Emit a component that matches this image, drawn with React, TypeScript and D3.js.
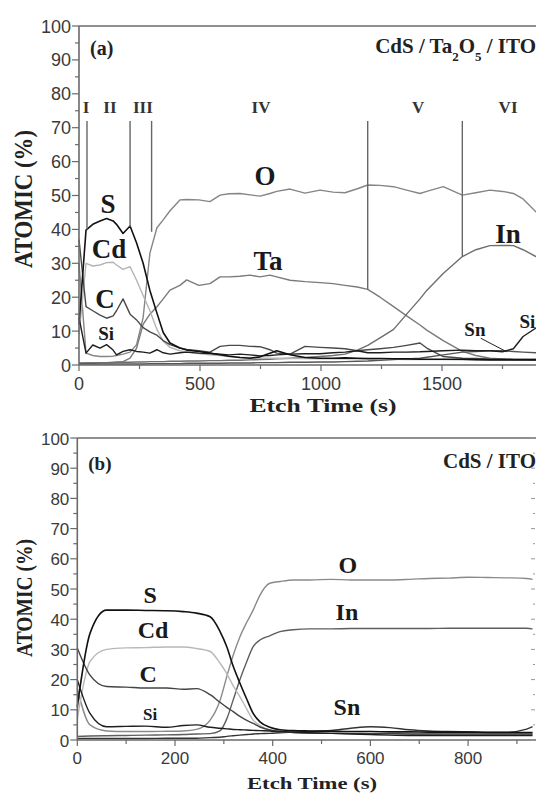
import React, { useRef, useEffect } from "react";
import * as d3 from "d3";

// ---- panel (a): CdS / Ta2O5 / ITO ----
const timeA = [
  0, 29, 57, 87, 114, 141, 155, 182, 211, 238,
  265, 293, 322, 348, 376, 417, 445, 495, 541, 583,
  620, 665, 707, 748, 789, 817, 872, 934, 996, 1050,
  1099, 1150, 1193, 1244, 1300, 1354, 1409, 1437, 1505, 1584,
  1640, 1698, 1750, 1795, 1835, 1888, 1950,
];
const sA = [
  12, 39.8, 41.5, 42.5, 43.2, 42.5, 41.5, 38.8, 41, 36,
  30, 22, 15.3, 9.6, 6.5, 5, 4.4, 4, 3.5, 3,
  2.6, 2.2, 2, 2.4, 3.5, 4.2, 3, 2.2, 2, 2,
  2.1, 2, 1.9, 1.9, 1.8, 1.8, 1.7, 1.7, 1.7, 1.7,
  1.6, 1.5, 1.5, 1.5, 1.5, 1.5, 1.5,
];
const cdA = [
  9, 30, 29.2, 29.5, 30.2, 30.3, 29.5, 28.2, 29, 25,
  20.5, 16, 10.5, 7, 5.2, 4.2, 3.8, 3.4, 3, 2.8,
  2.5, 2.3, 2.2, 2, 2, 2, 1.9, 1.9, 1.8, 1.8,
  1.8, 1.8, 1.7, 1.7, 1.7, 1.6, 1.6, 1.6, 1.6, 1.5,
  1.5, 1.5, 1.5, 1.5, 1.5, 1.5, 1.5,
];
const cA = [
  37, 17.2, 16, 14.7, 13.8, 14.5, 16, 19.5, 15, 13.3,
  11, 9.8, 8.8, 7.2, 6, 5, 4.6, 4.2, 3.8, 5.5,
  5.8, 5.8, 5.5, 5.4, 4.5, 3.5, 3.2, 5.5, 5.2, 5,
  4.8, 4.2, 4.5, 4.8, 5.2, 5.8, 6.5, 5, 2.5, 2,
  1.9, 1.8, 1.8, 1.7, 1.7, 1.7, 1.7,
];
const siA = [
  14, 3.5, 5.9, 5, 6, 4.4, 3, 4, 4.5, 4,
  3.8, 3.5, 4.5, 3.6, 3.2, 3.6, 3.8, 3.5, 3.4, 3.2,
  3, 3.2, 3, 2.7, 2.8, 3, 3.2, 3.3, 3.3, 3.6,
  3.8, 4.2, 3.6, 3.6, 3.8, 3.8, 3.9, 4, 4.2, 4.4,
  4.2, 4.2, 3.9, 4.8, 8.4, 10.9, 12,
];
const oA = [
  30, 3.5, 2.8, 2.5, 2.5, 2.6, 2.8, 3.2, 3.8, 6,
  14, 33, 40.5, 42.8, 45.5, 48.7, 48.8, 48.7, 48.2, 50.1,
  50.5, 50.6, 50.2, 49.8, 50.6, 51.2, 51.9, 50.7, 51.6, 51,
  50.8, 52, 53.1, 53, 52.6, 51.6, 50.6, 51.2, 52.6, 50.1,
  50.8, 51.6, 51.2, 50.6, 49, 45.2, 42,
];
const taA = [
  0.5, 0.6, 0.6, 0.7, 0.7, 0.8, 0.8, 1, 2, 5,
  12, 15, 17.2, 19.5, 22.1, 23.5, 25.1, 23.5, 24, 26,
  26, 26.2, 26.5, 26, 26.5, 26, 25, 24.6, 24.3, 24,
  23.5, 23, 22.3, 20, 17.2, 14.5, 11.8, 10.3, 7.2, 4,
  2.8, 2, 1.8, 1.6, 1.5, 1.4, 1.4,
];
const inA = [
  0.5, 0.6, 0.6, 0.7, 0.7, 0.7, 0.8, 0.8, 0.8, 0.9,
  0.9, 1, 1, 1, 1.1, 1.1, 1.2, 1.2, 1.3, 1.3,
  1.4, 1.4, 1.5, 1.6, 1.7, 1.8, 2, 2.2, 2.5, 2.8,
  3.2, 4.4, 5.8, 8, 10.5, 15, 19.5, 22, 27, 32,
  34, 35.2, 35.3, 35.2, 34, 32, 28,
];
const snA = [
  0.3, 0.3, 0.3, 0.3, 0.3, 0.3, 0.3, 0.3, 0.3, 0.3,
  0.3, 0.4, 0.4, 0.4, 0.4, 0.4, 0.5, 0.5, 0.5, 0.5,
  0.6, 0.6, 0.6, 0.7, 0.7, 0.7, 0.8, 0.8, 0.9, 0.9,
  1, 1.1, 1.2, 1.4, 1.6, 1.8, 2, 2.3, 3, 3.8,
  4, 4.2, 4.2, 4, 3.8, 3.6, 3.5,
];
// region dividers (time, value where the line stops) and region names
const dividerTimes = [33, 211, 300, 1193, 1584];
const dividerEnds = [40, 40.8, 39.3, 22.3, 32];
const regionNames = ["I", "II", "III", "IV", "V", "VI"];
const regionTimes = [29, 128, 264, 752, 1401, 1773];

// ---- panel (b): CdS / ITO ----
const timeB = [
  0, 26, 60, 100, 140, 183, 217, 244, 272, 292,
  306, 319, 333, 347, 360, 374, 394, 415, 442, 476,
  520, 560, 600, 640, 680, 720, 760, 800, 840, 880,
  920, 932,
];
const sB = [
  11, 35.3, 43, 43, 42.9, 42.8, 42.5, 42, 40.8, 36,
  30.9, 24.5, 18.8, 13.5, 8.8, 6, 4.2, 3.4, 3.1, 3,
  2.9, 2.8, 2.8, 2.7, 2.7, 2.6, 2.6, 2.6, 2.5, 2.5,
  2.5, 2.5,
];
const cdB = [
  7, 26, 30, 30.5, 30.6, 30.8, 30.8, 30.3, 29.3, 25.5,
  22, 18, 14.3, 10.2, 6.6, 4.8, 3.3, 2.8, 2.5, 2.3,
  2.2, 2.1, 2, 2, 2, 2, 2, 2, 2, 2,
  2, 2,
];
const cB = [
  30.5, 21.5, 17.7, 17.5, 17.2, 17.2, 16.8, 17, 15, 12.5,
  10.8, 9.4, 7.8, 6.5, 5.5, 4.3, 3.3, 2.8, 2.5, 2.3,
  2.2, 2.2, 2.1, 2.1, 2, 2, 2, 2, 2, 2,
  2, 2,
];
const siB = [
  20, 8.8, 4.4, 4.5, 4.6, 4.2, 4.8, 5, 4.2, 3.9,
  3.7, 3.5, 3.4, 3.3, 3.2, 3.1, 3, 2.8, 2.6, 2.4,
  2.2, 2, 1.8, 1.6, 1.5, 1.5, 1.5, 1.5, 1.5, 1.5,
  1.5, 1.5,
];
const oB = [
  17, 5, 3, 2.8, 2.8, 2.9, 3, 3.5, 6.6, 13,
  21, 28, 34.2, 39, 43, 48, 51.9, 52.5, 53, 53,
  53.2, 53, 53, 53, 53.2, 53.5, 53.6, 53.9, 53.8, 53.7,
  53.5, 53.2,
];
const inB = [
  1.2, 1.3, 1.4, 1.5, 1.6, 1.7, 1.8, 2, 2.1, 3,
  7, 13.2, 20, 26, 30.9, 33.1, 34.5, 35.9, 36.5, 36.8,
  36.8, 36.9, 36.9, 36.9, 36.9, 36.9, 37, 37, 37, 37,
  37, 36.8,
];
const snB = [
  0.5, 0.5, 0.5, 0.5, 0.5, 0.6, 0.6, 0.6, 0.8, 0.9,
  1.2, 1.4, 1.6, 1.8, 2, 2.1, 2.2, 2.4, 2.6, 2.8,
  3.2, 3.9, 4.4, 4.1, 3.4, 3, 2.8, 2.7, 2.6, 2.6,
  3.6, 4.4,
];

const serif = "'Liberation Serif', 'Times New Roman', serif";
const sans = "'Liberation Sans', Arial, sans-serif";
const W = 536;
const H = 794;

const drawPanel = (svg, p) => {
  const { x, y } = p;
  const g = svg.append("g");
  const x0 = x(0);
  const y0 = y(0);
  const yTop = y(100);
  const axisColor = "#6a6a6a";

  // curves
  const line = d3
    .line()
    .x((d) => x(d[0]))
    .y((d) => y(d[1]))
    .curve(p.curve);
  p.series.forEach((s) => {
    g.append("path")
      .datum(p.times.map((t, i) => [t, s.values[i]]))
      .attr("d", line)
      .attr("fill", "none")
      .attr("stroke", s.color)
      .attr("stroke-width", s.width || 1.4)
      .attr("stroke-linejoin", "round");
  });

  // frame: left, bottom, top (right side is cut off)
  g.append("line").attr("x1", x0).attr("x2", x0).attr("y1", yTop).attr("y2", y0)
    .attr("stroke", axisColor).attr("stroke-width", 1.6);
  g.append("line").attr("x1", x0).attr("x2", W).attr("y1", y0).attr("y2", y0)
    .attr("stroke", axisColor).attr("stroke-width", 1.6);
  g.append("line").attr("x1", x0).attr("x2", W).attr("y1", yTop).attr("y2", yTop)
    .attr("stroke", axisColor).attr("stroke-width", 1.6);

  // y ticks
  d3.range(0, 101, 5).forEach((v) => {
    const major = v % 10 === 0;
    g.append("line")
      .attr("x1", x0 - (major ? 7 : 4)).attr("x2", x0)
      .attr("y1", y(v)).attr("y2", y(v))
      .attr("stroke", axisColor).attr("stroke-width", 1.2);
    if (p.rightTicks) {
      g.append("line")
        .attr("x1", p.rightTicks - (major ? 4 : 2)).attr("x2", p.rightTicks)
        .attr("y1", y(v)).attr("y2", y(v))
        .attr("stroke", "#999").attr("stroke-width", 1);
    }
    if (major) {
      g.append("text")
        .attr("x", x0 - 8).attr("y", y(v) + 6.5)
        .attr("text-anchor", "end")
        .attr("font-family", sans).attr("font-size", p.tickFont)
        .attr("fill", "#3a3a3a")
        .text(v);
    }
  });

  // x ticks
  p.xMinor.forEach((v) => {
    g.append("line").attr("x1", x(v)).attr("x2", x(v))
      .attr("y1", y0).attr("y2", y0 + 4)
      .attr("stroke", axisColor).attr("stroke-width", 1.2);
  });
  p.xMajor.forEach((v) => {
    g.append("line").attr("x1", x(v)).attr("x2", x(v))
      .attr("y1", y0).attr("y2", y0 + 6)
      .attr("stroke", axisColor).attr("stroke-width", 1.2);
    g.append("text")
      .attr("x", x(v)).attr("y", y0 + p.xLabelDy)
      .attr("text-anchor", "middle")
      .attr("font-family", sans).attr("font-size", p.tickFont)
      .attr("fill", "#3a3a3a")
      .text(v);
  });

  // axis titles
  g.append("text")
    .attr("x", p.xTitle[0]).attr("y", p.xTitle[1])
    .attr("text-anchor", "middle")
    .attr("font-family", serif).attr("font-weight", "bold")
    .attr("font-size", p.xTitle[2])
    .attr("textLength", p.xTitle[3]).attr("lengthAdjust", "spacingAndGlyphs")
    .attr("fill", "#222")
    .text("Etch Time (s)");
  g.append("text")
    .attr("transform", `translate(${p.yTitle[0]},${p.yTitle[1]}) rotate(-90)`)
    .attr("text-anchor", "middle")
    .attr("font-family", serif).attr("font-weight", "bold")
    .attr("font-size", p.yTitle[2])
    .attr("textLength", p.yTitle[3]).attr("lengthAdjust", "spacingAndGlyphs")
    .attr("fill", "#222")
    .text("ATOMIC (%)");

  // panel tag and sample name
  g.append("text")
    .attr("x", x0 + 11).attr("y", p.tagY)
    .attr("font-family", serif).attr("font-weight", "bold")
    .attr("font-size", p.tagFont).attr("fill", "#222")
    .text(p.tag);
  const name = g.append("text")
    .attr("x", 536).attr("y", p.tagY - 2)
    .attr("text-anchor", "end")
    .attr("font-family", serif).attr("font-weight", "bold")
    .attr("font-size", p.nameFont).attr("fill", "#222");
  p.sample.forEach((part) => {
    name.append("tspan")
      .attr("baseline-shift", part.sub ? "sub" : null)
      .attr("font-size", part.sub ? p.nameFont - 8 : null)
      .text(part.t);
  });

  // element labels
  p.labels.forEach((l) => {
    g.append("text")
      .attr("x", x(l.t)).attr("y", y(l.v))
      .attr("text-anchor", l.anchor || "middle")
      .attr("font-family", serif).attr("font-weight", "bold")
      .attr("font-size", l.size).attr("fill", "#1a1a1a")
      .text(l.name);
  });
  return g;
};

const App = () => {
  const svgRef = useRef(null);

  useEffect(() => {
    const svg = d3.select(svgRef.current);
    svg.selectAll("*").remove();

    const xA = d3.scaleLinear().domain([0, 2000]).range([79, 563]);
    const yA = d3.scaleLinear().domain([0, 100]).range([365, 26]);
    const gA = drawPanel(svg, {
      x: xA, y: yA, times: timeA, curve: d3.curveLinear,
      series: [
        { values: taA, color: "#7a7a7a" },
        { values: inA, color: "#6e6e6e" },
        { values: oA, color: "#858585" },
        { values: snA, color: "#555" },
        { values: cdA, color: "#b4b4b4" },
        { values: cA, color: "#4a4a4a" },
        { values: siA, color: "#1e1e1e" },
        { values: sA, color: "#111", width: 1.6 },
      ],
      xMajor: [0, 500, 1000, 1500],
      xMinor: [250, 750, 1250, 1750],
      xLabelDy: 25, tickFont: 18,
      xTitle: [323, 412, 18, 147],
      yTitle: [32, 199, 25, 138],
      tag: "(a)", tagY: 55, tagFont: 20, nameFont: 21,
      sample: [
        { t: "CdS / Ta" }, { t: "2", sub: true }, { t: "O" }, { t: "5", sub: true }, { t: " / ITO" },
      ],
      labels: [
        { name: "S", t: 120, v: 44.8, size: 27 },
        { name: "Cd", t: 124, v: 31.6, size: 27 },
        { name: "C", t: 107, v: 16.8, size: 27 },
        { name: "Si", t: 112, v: 7.4, size: 19 },
        { name: "O", t: 769, v: 53.1, size: 27 },
        { name: "Ta", t: 781, v: 28, size: 27 },
        { name: "In", t: 1773, v: 36, size: 27 },
        { name: "Sn", t: 1636, v: 8.6, size: 19 },
        { name: "Si", t: 1886, v: 10.9, size: 19, anchor: "end" },
      ],
    });

    // region dividers and names
    dividerTimes.forEach((t, i) => {
      gA.append("line")
        .attr("x1", xA(t)).attr("x2", xA(t))
        .attr("y1", yA(72)).attr("y2", yA(dividerEnds[i]))
        .attr("stroke", "#666").attr("stroke-width", 1.4);
    });
    regionNames.forEach((n, i) => {
      gA.append("text")
        .attr("x", xA(regionTimes[i])).attr("y", yA(74.3))
        .attr("text-anchor", "middle")
        .attr("font-family", serif).attr("font-weight", "bold")
        .attr("font-size", 17).attr("fill", "#333")
        .text(n);
    });
    // pointer from the Sn label to its curve
    gA.append("line")
      .attr("x1", xA(1660)).attr("y1", yA(7.9))
      .attr("x2", xA(1767)).attr("y2", yA(3.9))
      .attr("stroke", "#222").attr("stroke-width", 1);

    const xB = d3.scaleLinear().domain([0, 937]).range([77.3, 535]);
    const yB = d3.scaleLinear().domain([0, 100]).range([740, 438]);
    drawPanel(svg, {
      x: xB, y: yB, times: timeB, curve: d3.curveMonotoneX,
      series: [
        { values: oB, color: "#8a8a8a" },
        { values: inB, color: "#5e5e5e" },
        { values: snB, color: "#333" },
        { values: cdB, color: "#b8b8b8" },
        { values: cB, color: "#444" },
        { values: siB, color: "#1e1e1e" },
        { values: sB, color: "#111", width: 1.6 },
      ],
      xMajor: [0, 200, 400, 600, 800],
      xMinor: [100, 300, 500, 700, 900],
      xLabelDy: 24, tickFont: 17, rightTicks: 535,
      xTitle: [312, 789, 16, 130],
      yTitle: [32, 598, 23, 118],
      tag: "(b)", tagY: 470, tagFont: 19, nameFont: 21,
      sample: [{ t: "CdS / ITO" }],
      labels: [
        { name: "S", t: 149, v: 45.4, size: 24 },
        { name: "Cd", t: 155, v: 33.8, size: 24 },
        { name: "C", t: 145, v: 19.2, size: 24 },
        { name: "Si", t: 149, v: 6.6, size: 17 },
        { name: "O", t: 554, v: 55.3, size: 24 },
        { name: "In", t: 552, v: 39.7, size: 24 },
        { name: "Sn", t: 552, v: 8.3, size: 24 },
      ],
    });
  }, []);

  return (
    <svg
      ref={svgRef}
      width={W}
      height={H}
      style={{ position: "absolute", left: 0, top: 0, background: "#fff" }}
    />
  );
};

export default App;
